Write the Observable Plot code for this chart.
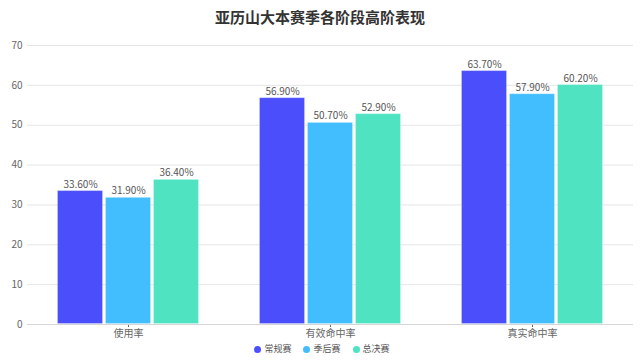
<!DOCTYPE html>
<html>
<head>
<meta charset="utf-8">
<script src="https://cdn.jsdelivr.net/npm/d3@7"></script>
<script src="https://cdn.jsdelivr.net/npm/@observablehq/plot@0.6"></script>
<style>
  html, body { margin: 0; padding: 0; background: #fff; }
  body { width: 640px; height: 361px; overflow: hidden; font-family: "Noto Sans CJK SC", "Noto Sans", sans-serif; }
  #title { height: 30px; padding-top: 2px; box-sizing: border-box; text-align: center; font-size: 15px; font-weight: bold; color: #333; line-height: 30px; }
  #legend { display: flex; justify-content: center; align-items: center; gap: 12px; height: 16px; margin-top: 1px; font-size: 9px; color: #555; line-height: 16px; margin-left: 4px; }
  #legend .item { display: flex; align-items: center; gap: 3px; }
  #legend .dot { width: 7px; height: 7px; border-radius: 50%; display: inline-block; }
  svg { display: block; }
</style>
</head>
<body>
<div id="title">亚历山大本赛季各阶段高阶表现</div>
<div id="chart"></div>
<div id="legend"></div>
<script>
const categories = ["使用率", "有效命中率", "真实命中率"];
const seriesNames = ["常规赛", "季后赛", "总决赛"];
const regular = [33.6, 56.9, 63.7];
const playoffs = [31.9, 50.7, 57.9];
const finals = [36.4, 52.9, 60.2];
const colors = ["#4B4EFB", "#42BEFE", "#50E3C2"];
const yTicks = [0, 10, 20, 30, 40, 50, 60, 70];

const seriesValues = [regular, playoffs, finals];
const data = categories.flatMap((c, i) =>
  seriesValues.map((arr, j) => ({ category: c, series: seriesNames[j], value: arr[i] }))
);

const font = "'Noto Sans CJK SC', 'Noto Sans', sans-serif";

const chart = Plot.plot({
  width: 640,
  height: 310,
  marginTop: 15,
  marginBottom: 16,
  marginLeft: 26,
  marginRight: 7,
  style: { fontFamily: font, fontSize: "10px", color: "#666", background: "#fff" },
  fx: { domain: categories, padding: 0, axis: "bottom", label: null, tickSize: 3, tickPadding: 2, fontSize: 9 },
  x: { domain: seriesNames, axis: null, paddingInner: 0.04, paddingOuter: 0.62 },
  y: { domain: [0, 70], ticks: yTicks, tickSize: 0, tickPadding: 5, label: null },
  color: { domain: seriesNames, range: colors },
  marks: [
    Plot.ruleY(yTicks.slice(1), { stroke: "#e6e6e6" }),
    Plot.barY(data, {
      fx: "category", x: "series", y: "value", fill: "series",
      stroke: "white", strokeOpacity: 0.25, strokeWidth: 1, inset: 0.5
    }),
    Plot.ruleY([0], { stroke: "#d6d6d6" }),
    Plot.text(data, {
      fx: "category", x: "series", y: "value",
      text: d => d.value.toFixed(2) + "%",
      dy: -3, lineAnchor: "bottom", fill: "#555", fontSize: 10
    })
  ]
});
document.getElementById("chart").appendChild(chart);

const legend = document.getElementById("legend");
seriesNames.forEach((s, i) => {
  const item = document.createElement("span");
  item.className = "item";
  const dot = document.createElement("span");
  dot.className = "dot";
  dot.style.background = colors[i];
  const label = document.createElement("span");
  label.textContent = s;
  item.appendChild(dot);
  item.appendChild(label);
  legend.appendChild(item);
});
</script>
</body>
</html>
